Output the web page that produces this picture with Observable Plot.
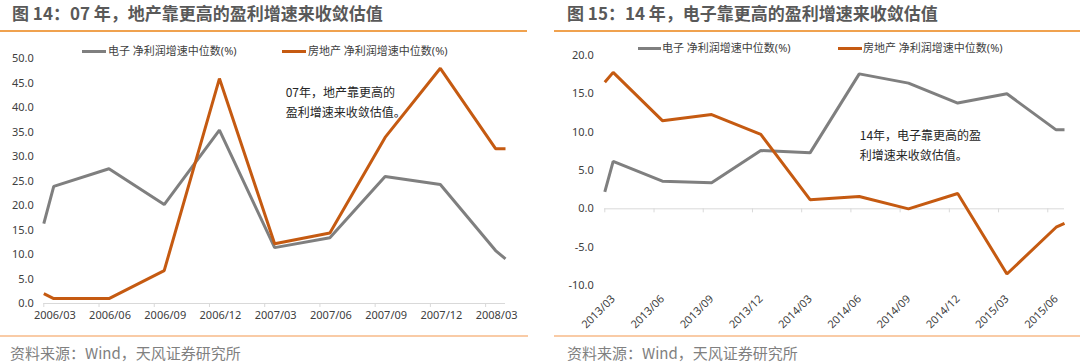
<!DOCTYPE html>
<html><head><meta charset="utf-8">
<script src="https://cdn.jsdelivr.net/npm/d3@7"></script>
<script src="https://cdn.jsdelivr.net/npm/@observablehq/plot@0.6"></script>
<style>
html,body{margin:0;padding:0;background:#fff;}
#root{position:relative;width:1080px;height:364px;overflow:hidden;font-family:"Noto Sans","Noto Sans CJK SC",sans-serif;}
.abs{position:absolute;white-space:nowrap;}
.title{font-family:"Noto Sans CJK SC",sans-serif;font-size:17px;font-weight:bold;color:#595959;line-height:20px;}
.rule-top{height:1.5px;background:#f0a24f;}
.rule-bot{height:2px;background:#f9cba6;}
.foot{font-family:"Noto Sans CJK SC",sans-serif;font-size:15px;color:#808080;line-height:20px;}
.leg{font-size:11px;color:#404040;line-height:14px;}
.sw{height:3px;}
</style>
</head><body>
<div id="root"></div>
<script>
// ---------- data ----------
const seriesNames = ["电子 净利润增速中位数(%)", "房地产 净利润增速中位数(%)"];
const seriesColors = ["#7f7f7f", "#c55a11"];

// Figure 14 (left): position in quarters since 2006/03
const leftTickLabels = ["2006/03","2006/06","2006/09","2006/12","2007/03","2007/06","2007/09","2007/12","2008/03"];
const leftQ = [0, 0.18, 1.18, 2.18, 3.18, 4.18, 5.18, 6.18, 7.18, 8.18, 8.36];
const leftElec = [16.3, 23.9, 27.5, 20.2, 35.4, 11.4, 13.4, 25.9, 24.3, 10.8, 9.1];
const leftRE   = [2.0, 1.0, 1.0, 6.7, 45.9, 12.2, 14.4, 33.9, 48.0, 31.6, 31.6];
const leftYTicks = [0, 5, 10, 15, 20, 25, 30, 35, 40, 45, 50];

// Figure 15 (right): position in quarters since 2013/03
const rightTickLabels = ["2013/03","2013/06","2013/09","2013/12","2014/03","2014/06","2014/09","2014/12","2015/03","2015/06"];
const rightQ = [0, 0.17, 1.17, 2.17, 3.17, 4.17, 5.17, 6.17, 7.17, 8.17, 9.17, 9.34];
const rightElec = [2.2, 6.2, 3.6, 3.4, 7.6, 7.3, 17.6, 16.4, 13.8, 15.0, 10.3, 10.3];
const rightRE   = [16.5, 17.8, 11.5, 12.3, 9.7, 1.2, 1.6, 0.0, 2.0, -8.5, -2.4, -1.9];
const rightYTicks = [-10, -5, 0, 5, 10, 15, 20];

const titles = ["图 14：07 年，地产靠更高的盈利增速来收敛估值", "图 15：14 年，电子靠更高的盈利增速来收敛估值"];
const notes = ["07年，地产靠更高的\n盈利增速来收敛估值。", "14年，电子靠更高的盈\n利增速来收敛估值。"];
const noteLeftPos = {q: 4.38, v: 41.4};
const noteRightPos = {q: 5.18, v: 8.5};
const source = "资料来源：Wind，天风证券研究所";

// ---------- layout helpers ----------
const root = document.getElementById("root");
function el(cls, css, text) {
  const d = document.createElement("div");
  d.className = "abs " + cls;
  Object.assign(d.style, css);
  if (text != null) d.textContent = text;
  root.appendChild(d);
  return d;
}

function makePanel(o) {
  const rows = [];
  o.q.forEach((q, i) => {
    rows.push({q, v: o.elec[i], s: seriesNames[0]});
  });
  o.q.forEach((q, i) => {
    rows.push({q, v: o.re[i], s: seriesNames[1]});
  });
  const tickIdx = o.tickLabels.map((_, i) => i);
  const textOpts = o.rotate
    ? {rotate: -45, textAnchor: "end", lineAnchor: "bottom", dx: o.labelDx, dy: o.labelDy}
    : {dx: o.labelDx, dy: o.labelDy};
  const chart = Plot.plot({
    width: 540,
    height: 295,
    marginLeft: o.ml, marginRight: o.mr, marginTop: o.mt, marginBottom: o.mb,
    style: {fontFamily: '"Noto Sans","Noto Sans CJK SC",sans-serif', fontSize: "11px", color: "#404040", background: "transparent"},
    x: {domain: [0, o.q[o.q.length - 1]], axis: null},
    y: {domain: o.yDomain, ticks: o.yTicks, tickSize: 0, tickPadding: o.yPad, tickFormat: d => d.toFixed(1), label: null},
    color: {domain: seriesNames, range: seriesColors},
    marks: [
      Plot.ruleY([0], {stroke: "#d9d9d9", strokeWidth: 1}),
      Plot.ruleX(tickIdx, {x: d => d, y1: 0, y2: 0, insetBottom: -4, stroke: "#d9d9d9"}),
      Plot.text(tickIdx, {x: d => d, frameAnchor: "bottom", text: d => o.tickLabels[d], fontSize: 11, fill: "#404040", ...textOpts}),
      Plot.line(rows, {x: "q", y: "v", z: "s", stroke: "s", strokeWidth: 3, strokeLinejoin: "miter", strokeLinecap: "butt"}),
      Plot.text([o.note], {x: () => o.notePos.q, y: () => o.notePos.v, text: d => d, textAnchor: "start", lineAnchor: "middle", lineHeight: 1.667, fontSize: 12, fill: "#262626", fontFamily: '"Noto Sans CJK SC",sans-serif'})
    ]
  });
  chart.style.position = "absolute";
  chart.style.left = o.left + "px";
  chart.style.top = "40px";
  root.appendChild(chart);
}

// ---------- left panel ----------
el("title", {left: "12px", top: "3px"}, titles[0]);
el("rule-top", {left: "0px", top: "30px", width: "527px"});
el("sw", {left: "82px", top: "50px", width: "24px", background: seriesColors[0]});
el("leg", {left: "108px", top: "44px"}, seriesNames[0]);
el("sw", {left: "282px", top: "50px", width: "24px", background: seriesColors[1]});
el("leg", {left: "308px", top: "44px"}, seriesNames[1]);
makePanel({left: 0, q: leftQ, elec: leftElec, re: leftRE, tickLabels: leftTickLabels,
  yDomain: [0, 50], yTicks: leftYTicks, yPad: 10, ml: 43.3, mr: 35, mt: 18, mb: 32,
  rotate: false, labelDx: 11, labelDy: 15, note: notes[0], notePos: noteLeftPos});
el("rule-bot", {left: "0px", top: "335px", width: "528px"});
el("foot", {left: "10px", top: "343px"}, source);

// ---------- right panel ----------
el("title", {left: "567px", top: "3px"}, titles[1]);
el("rule-top", {left: "554px", top: "30px", width: "526px"});
el("sw", {left: "638px", top: "47px", width: "23px", background: seriesColors[0]});
el("leg", {left: "662px", top: "41px"}, seriesNames[0]);
el("sw", {left: "838px", top: "47px", width: "24px", background: seriesColors[1]});
el("leg", {left: "863px", top: "41px"}, seriesNames[1]);
makePanel({left: 540, q: rightQ, elec: rightElec, re: rightRE, tickLabels: rightTickLabels,
  yDomain: [-10, 20], yTicks: rightYTicks, yPad: 11, ml: 64.3, mr: 16, mt: 15, mb: 50,
  rotate: true, labelDx: 11, labelDy: 14, note: notes[1], notePos: noteRightPos});
el("rule-bot", {left: "554px", top: "335px", width: "526px"});
el("foot", {left: "567px", top: "343px"}, source);
</script>
</body></html>
